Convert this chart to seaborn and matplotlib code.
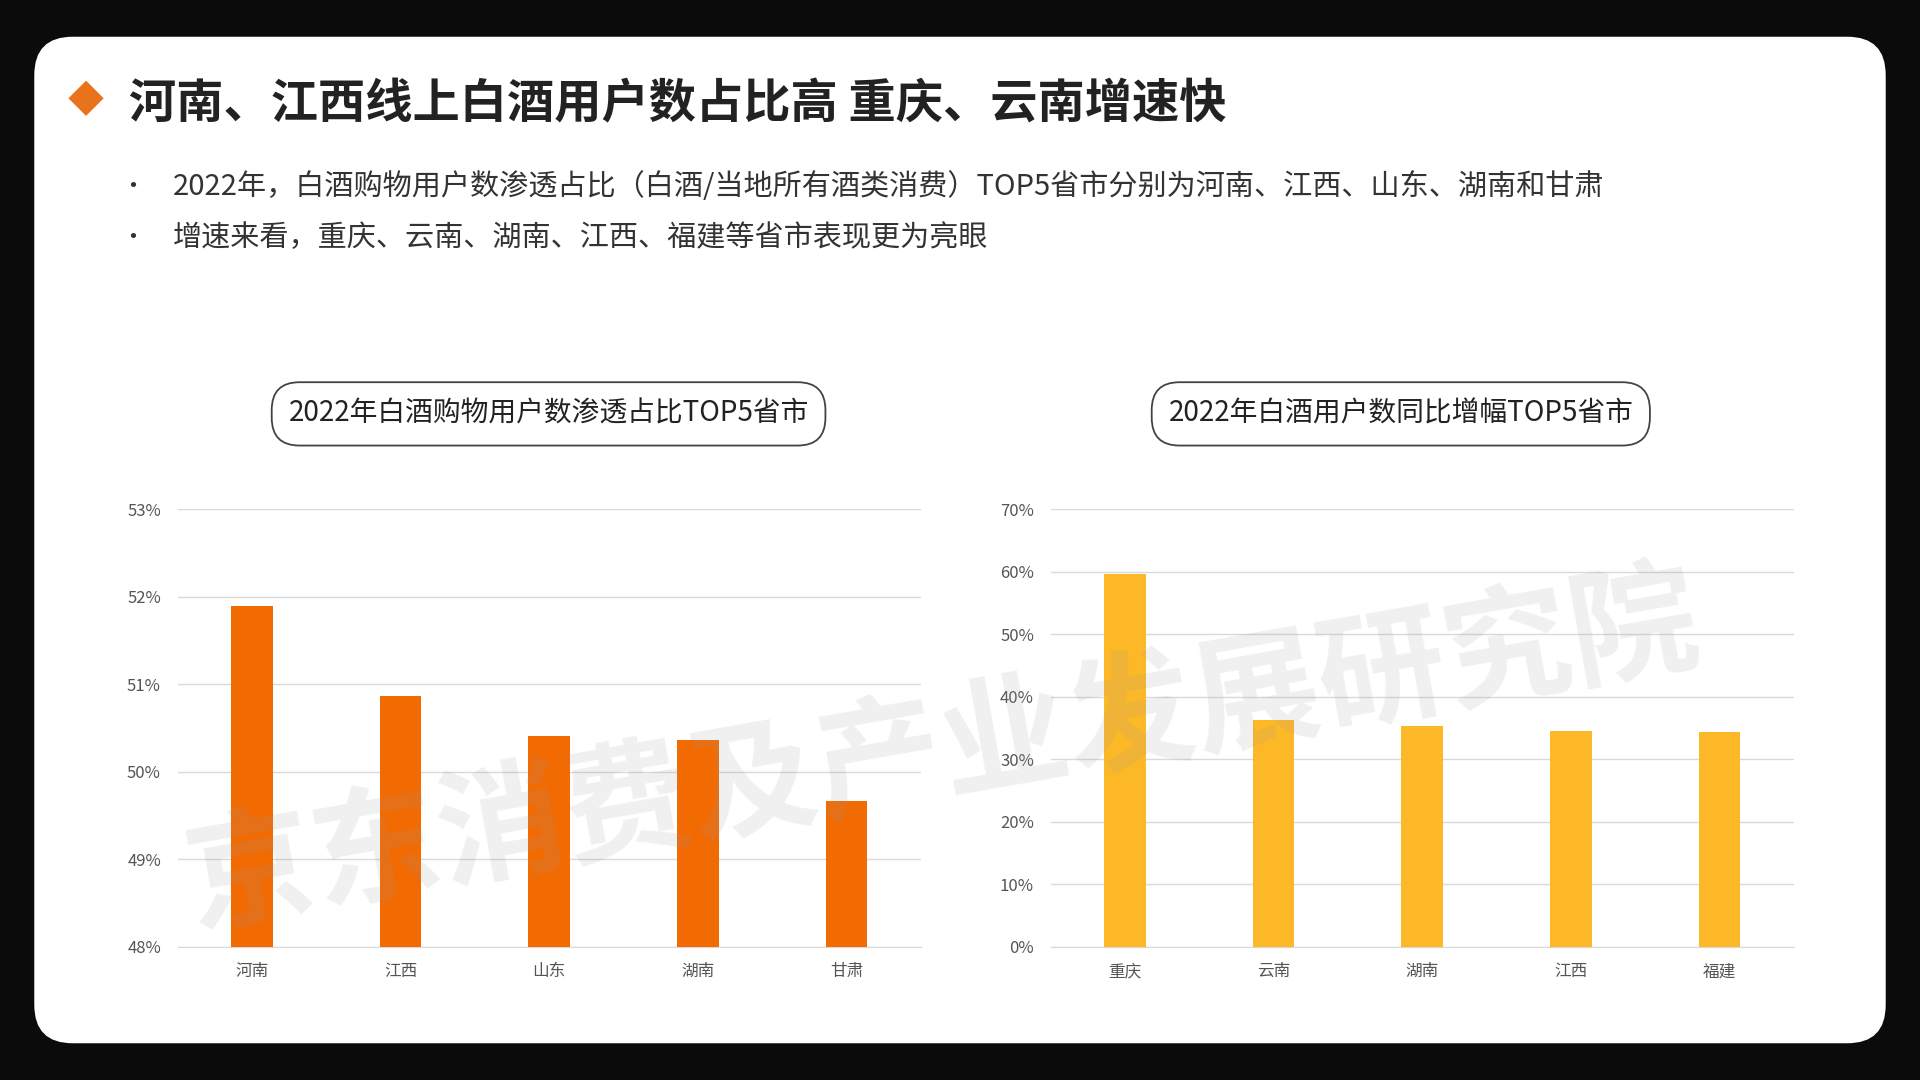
import matplotlib
matplotlib.use("Agg")
import matplotlib.pyplot as plt
import seaborn as sns
import pandas as pd
import numpy as np
from matplotlib.patches import FancyBboxPatch
from matplotlib.ticker import FuncFormatter

plt.rcParams["font.family"] = "Noto Sans CJK SC"

left_cats = ["河南", "江西", "山东", "湖南", "甘肃"]
left_vals = [51.9, 50.87, 50.41, 50.36, 49.66]
right_cats = ["重庆", "云南", "湖南", "江西", "福建"]
right_vals = [59.6, 36.3, 35.3, 34.5, 34.3]

title = "河南、江西线上白酒用户数占比高 重庆、云南增速快"
bullets = ["2022年，白酒购物用户数渗透占比（白酒/当地所有酒类消费）TOP5省市分别为河南、江西、山东、湖南和甘肃",
           "增速来看，重庆、云南、湖南、江西、福建等省市表现更为亮眼"]
left_title = "2022年白酒购物用户数渗透占比TOP5省市"
right_title = "2022年白酒用户数同比增幅TOP5省市"
watermark = "京东消费及产业发展研究院"

W, H = 1568, 882
fig = plt.figure(figsize=(19.2, 10.8), dpi=100)
fig.patch.set_facecolor("#0b0b0b")
fig.patches.append(FancyBboxPatch((28/W, 1-852/H), (1540-28)/W, (852-30)/H,
                                  boxstyle="round,pad=0,rounding_size=0.02",
                                  transform=fig.transFigure, facecolor="white",
                                  edgecolor="none", zorder=-5, mutation_aspect=W/H))

def fx(x): return x / W
def fy(y): return 1 - y / H

fig.text(fx(70), fy(83), "◆", color="#E8731A", fontsize=26, ha="center", va="center")
fig.text(fx(105), fy(85), title, fontsize=34, fontweight="bold", color="#222222", va="center")
for i, b in enumerate(bullets):
    y = fy(153 + 41 * i)
    fig.text(fx(108), y, "•", fontsize=18, color="#333333", va="center", ha="center")
    fig.text(fx(141), y, b, fontsize=21, color="#333333", va="center", fontweight="medium")

for cx, t in [(448, left_title), (1144, right_title)]:
    fig.text(fx(cx), fy(338), t, fontsize=20, color="#222222", ha="center", va="center",
             bbox=dict(boxstyle="round,pad=0.6,rounding_size=1.0", fc="white", ec="#444444", lw=1.3))

def draw(ax, cats, vals, color, ylim, step, label_fmt):
    df = pd.DataFrame({"c": cats, "v": vals})
    sns.barplot(data=df, x="c", y="v", color=color, width=0.28, ax=ax, saturation=1, zorder=3)
    ax.set_ylim(*ylim)
    ax.set_yticks(np.arange(ylim[0], ylim[1] + 0.01, step))
    ax.yaxis.set_major_formatter(FuncFormatter(label_fmt))
    ax.grid(axis="y", color="#d9d9d9", lw=1, zorder=0)
    ax.set_axisbelow(True)
    ax.set_xlabel(""); ax.set_ylabel("")
    for s in ["top", "right", "left"]:
        ax.spines[s].set_visible(False)
    ax.spines["bottom"].set_color("#d9d9d9")
    ax.tick_params(length=0, labelsize=12, colors="#555555", pad=12)
    ax.set_facecolor("none")

ax1 = fig.add_axes([fx(145), fy(773), fx(752 - 145), (773 - 416) / H], zorder=2)
draw(ax1, left_cats, left_vals, "#F26A02", (48, 53), 1, lambda v, p: f"{v:.0f}%")
ax2 = fig.add_axes([fx(858), fy(773), fx(1465 - 858), (773 - 416) / H], zorder=2)
draw(ax2, right_cats, right_vals, "#FDB827", (0, 70), 10, lambda v, p: f"{v:.0f}%")

fig.text(fx(770), fy(615), watermark, fontsize=92, color="#9a9a9a", alpha=0.15,
         rotation=10, ha="center", va="center", fontweight="bold", zorder=10)

fig.savefig("out.png", dpi=100, facecolor=fig.get_facecolor())
